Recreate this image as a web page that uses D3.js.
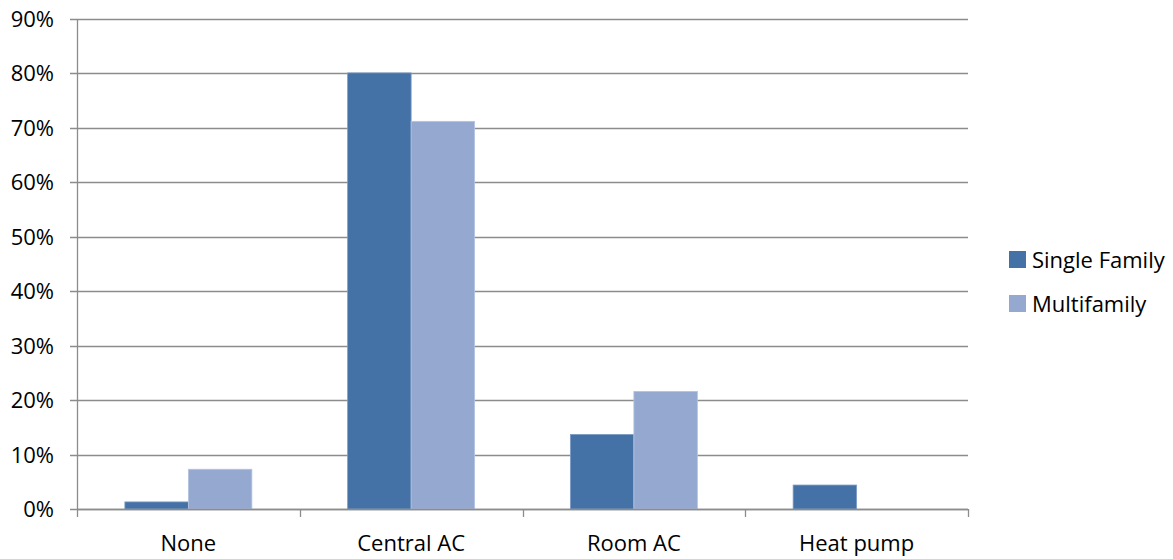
<!DOCTYPE html>
<html><head><meta charset="utf-8">
<script src="https://cdn.jsdelivr.net/npm/d3@7"></script>
<style>body{margin:0;background:#fff}svg{display:block}text{font-family:"Open Sans",sans-serif;fill:#000}</style>
</head><body><svg id="c" width="1173" height="559"></svg>
<script>
const categories = ["None","Central AC","Room AC","Heat pump"];
const seriesNames = ["Single Family","Multifamily"];
const singleFamily = [1.3, 80.1, 13.7, 4.4];
const multifamily = [7.3, 71.2, 21.6, 0];
const yTicks = [0,10,20,30,40,50,60,70,80,90];
const colors = ["#4472A7","#95A9D0"];

(function(){
const svg = d3.select("#c");
const pL = 77, pR = 968, pT = 19, pB = 509;
const fs = 22;
const x = d3.scaleBand().domain(categories).range([pL,pR]).paddingInner(0).paddingOuter(0);
const x1 = d3.scaleBand().domain(seriesNames).range([0,x.bandwidth()]).paddingOuter(0.754).paddingInner(0);
const y = d3.scaleLinear().domain([0,90]).range([pB,pT]);

svg.append("g").selectAll("line").data(yTicks).join("line")
  .attr("x1",pL-7).attr("x2",pR).attr("y1",d=>Math.round(y(d))+0.5).attr("y2",d=>Math.round(y(d))+0.5)
  .attr("stroke","#8c8c8c").attr("stroke-width",1.3);

const data = categories.map((c,i)=>({c, vals:[singleFamily[i], multifamily[i]]}));
const g = svg.append("g").selectAll("g").data(data).join("g").attr("transform",d=>`translate(${x(d.c)},0)`);
g.selectAll("rect").data(d=>d.vals.map((v,j)=>({v,s:seriesNames[j],j})).filter(d=>d.v>0)).join("rect")
  .attr("x",d=>x1(d.s)).attr("width",x1.bandwidth())
  .attr("y",d=>y(d.v)).attr("height",d=>pB-y(d.v))
  .attr("fill",d=>colors[d.j]).attr("stroke",d=>d.j===0?"#7d9cc4":"#b3c3e0").attr("stroke-width",0.8);

svg.append("line").attr("x1",pL+0.5).attr("x2",pL+0.5).attr("y1",pT).attr("y2",pB+1).attr("stroke","#8c8c8c").attr("stroke-width",1.3);
svg.append("line").attr("x1",pL).attr("x2",pR).attr("y1",pB+0.5).attr("y2",pB+0.5).attr("stroke","#8c8c8c").attr("stroke-width",1.3);
const bounds = categories.map(c=>x(c)).concat([pR]);
svg.append("g").selectAll("line").data(bounds).join("line")
  .attr("x1",d=>Math.round(d)+0.5).attr("x2",d=>Math.round(d)+0.5).attr("y1",pB).attr("y2",pB+8)
  .attr("stroke","#8c8c8c").attr("stroke-width",1.3);

svg.append("g").selectAll("text").data(yTicks).join("text")
  .attr("x",54).attr("y",d=>y(d)+8).attr("text-anchor","end").attr("font-size",fs)
  .text(d=>d+"%");
svg.append("g").selectAll("text").data(categories).join("text")
  .attr("x",d=>x(d)+x.bandwidth()/2).attr("y",551).attr("text-anchor","middle").attr("font-size",fs)
  .text(d=>d);

const lg = svg.append("g").selectAll("g").data(seriesNames).join("g")
  .attr("transform",(d,i)=>`translate(1009,${251+i*44})`);
lg.append("rect").attr("width",17).attr("height",17).attr("fill",(d,i)=>colors[i]);
lg.append("text").attr("x",23).attr("y",17).attr("font-size",fs).text(d=>d);
})();
</script></body></html>
